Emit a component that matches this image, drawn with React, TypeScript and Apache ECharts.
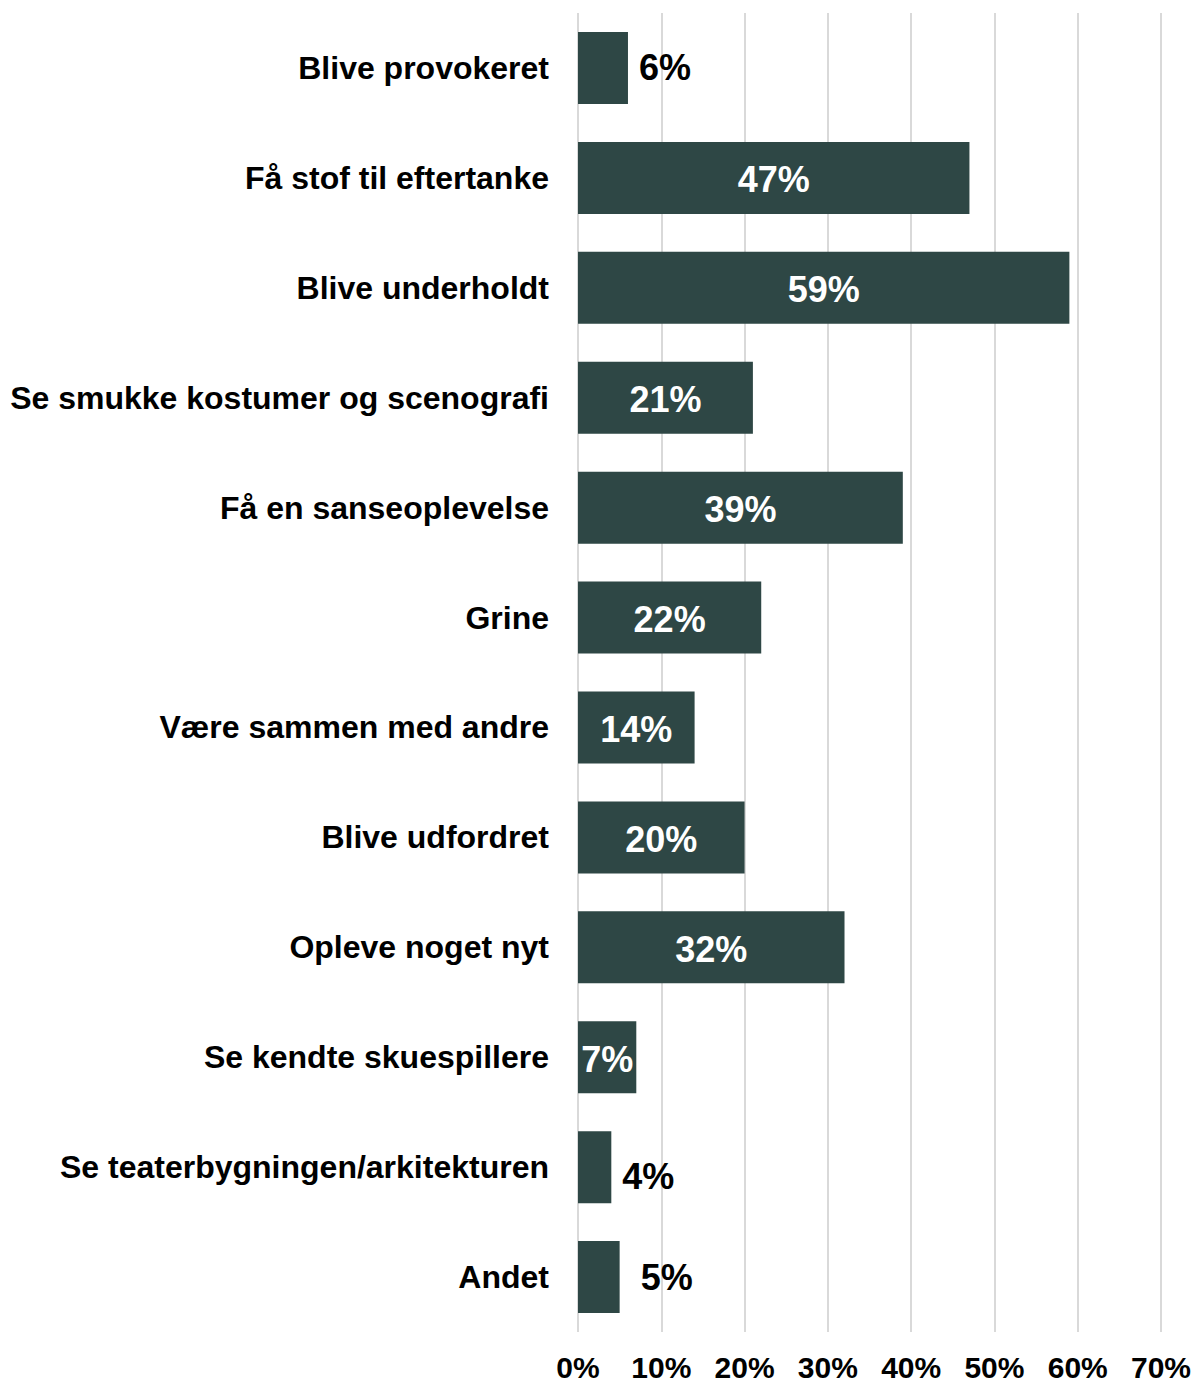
import React, { useEffect, useRef } from "react";
import * as echarts from "echarts";

const categories = [
  "Blive provokeret",
  "Få stof til eftertanke",
  "Blive underholdt",
  "Se smukke kostumer og scenografi",
  "Få en sanseoplevelse",
  "Grine",
  "Være sammen med andre",
  "Blive udfordret",
  "Opleve noget nyt",
  "Se kendte skuespillere",
  "Se teaterbygningen/arkitekturen",
  "Andet",
];
const values = [6, 47, 59, 21, 39, 22, 14, 20, 32, 7, 4, 5];
const outsideLabel = [true, false, false, false, false, false, false, false, false, false, true, true];
const outsideDistance = [11, 0, 0, 0, 0, 0, 0, 0, 0, 0, 11, 21];
const outsideOffsetY = [0, 0, 0, 0, 0, 0, 0, 0, 0, 0, 9, 0];

const FONT = "'Liberation Sans', Arial, sans-serif";

export default function App() {
  const ref = useRef<HTMLDivElement>(null);
  useEffect(() => {
    document.body.style.margin = "0";
    const chart = echarts.init(ref.current!, null, { renderer: "svg" });
    chart.setOption({
      animation: false,
      grid: { left: 578, right: 35, top: 13, bottom: 50, containLabel: false },
      xAxis: {
        type: "value",
        min: 0,
        max: 70,
        interval: 10,
        axisLine: { show: false },
        axisTick: { show: false },
        splitLine: { show: true, lineStyle: { color: "#D9D9D9", width: 2 } },
        axisLabel: {
          formatter: "{value}%",
          fontFamily: FONT,
          fontWeight: "bold",
          fontSize: 30,
          color: "#000",
          margin: 20,
        },
      },
      yAxis: {
        type: "category",
        data: categories,
        inverse: true,
        axisLine: { show: false },
        axisTick: { show: false },
        axisLabel: {
          fontFamily: FONT,
          fontWeight: "bold",
          fontSize: 32,
          color: "#000",
          margin: 29,
        },
      },
      series: [
        {
          type: "bar",
          barWidth: 72,
          itemStyle: { color: "#2E4745" },
          data: values.map((v, i) => ({
            value: v,
            label: outsideLabel[i]
              ? {
                  show: true,
                  position: "right",
                  distance: outsideDistance[i],
                  offset: [0, outsideOffsetY[i]],
                  color: "#000",
                }
              : { show: true, position: "inside", color: "#fff", offset: [0, 2] },
          })),
          label: {
            show: true,
            formatter: "{c}%",
            fontFamily: FONT,
            fontWeight: "bold",
            fontSize: 36,
          },
        },
      ],
    });
    return () => chart.dispose();
  }, []);
  return (
    <div
      ref={ref}
      style={{ position: "absolute", left: 0, top: 0, width: 1196, height: 1382 }}
    />
  );
}
